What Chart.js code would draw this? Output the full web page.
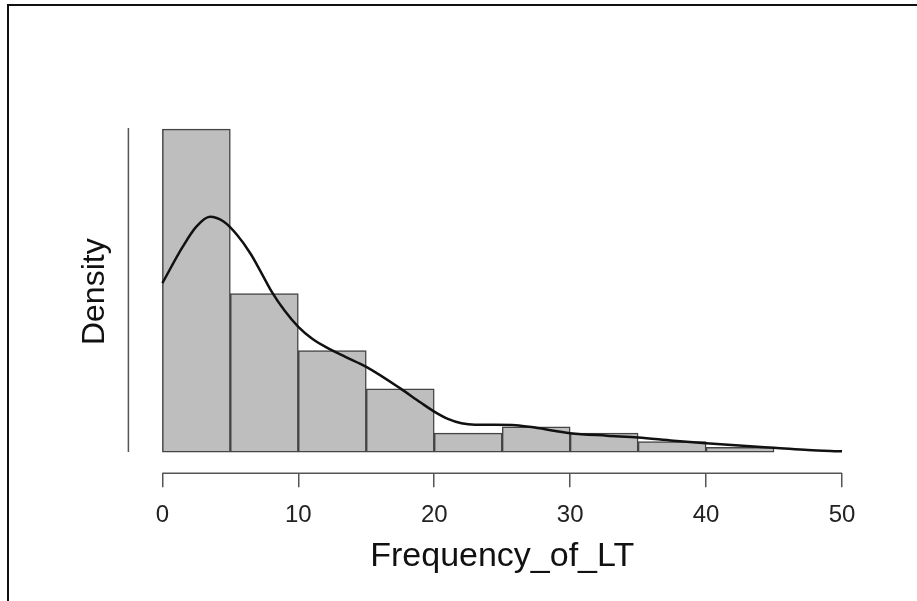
<!DOCTYPE html>
<html>
<head>
<meta charset="utf-8">
<script src="https://cdn.jsdelivr.net/npm/chart.js@4.4.1/dist/chart.umd.min.js"></script>
<style>
  html, body { margin: 0; padding: 0; background: #fff; }
  #wrap { position: relative; width: 917px; height: 601px; overflow: hidden; }
  #frame { position: absolute; left: 7px; top: 4px; width: 920px; height: 610px;
           border-top: 2px solid #111; border-left: 2px solid #111; }
  canvas { position: absolute; left: 0; top: 0; }
</style>
</head>
<body>
<div id="wrap">
  <div id="frame"></div>
  <canvas id="mainChart" width="917" height="601"></canvas>
</div>
<script>
// histogram bins (width 5) and their density heights
const binEdges = [0, 5, 10, 15, 20, 25, 30, 35, 40, 45];
const histDensity = [0.0887, 0.0435, 0.0279, 0.0174, 0.0052, 0.0069, 0.0052, 0.0029, 0.0013];

// kernel density curve
const kdeX = [0, 1.5, 2.5, 3.5, 4.5, 5.5, 6.5, 7.3, 8.05, 9, 10, 11, 12, 13.5, 15, 17.5, 19, 20, 21, 22, 23, 24.5, 26, 27.6, 30, 32.7, 35, 37.6, 40, 43.5, 45, 47.5, 50];
const kdeY = [0.0464, 0.0564, 0.0619, 0.0646, 0.0633, 0.0596, 0.0544, 0.0491, 0.0440, 0.0388, 0.0344, 0.0312, 0.0289, 0.0261, 0.0234, 0.0175, 0.0136, 0.0111, 0.0091, 0.0079, 0.0075, 0.0075, 0.0074, 0.0066, 0.0052, 0.0045, 0.0040, 0.0031, 0.0024, 0.0015, 0.0012, 0.0006, 0.0002];

const xTicks = [0, 10, 20, 30, 40, 50];
const yTop = 0.089;

const fontFamily = '"Liberation Sans", Arial, Helvetica, sans-serif';

// bars centred on each bin
const barData = [];
histDensity.forEach((d, i) => {
    barData.push({ x: (binEdges[i] + binEdges[i + 1]) / 2, y: d });
});
const curveData = kdeX.map((x, i) => ({ x: x, y: kdeY[i] }));

// R style detached axis lines
const axisLines = {
    id: 'axisLines',
    afterDraw(chart) {
        const ctx = chart.ctx;
        const area = chart.chartArea;
        const xs = chart.scales.x;
        const ys = chart.scales.y;
        ctx.save();
        ctx.strokeStyle = '#555';
        ctx.lineWidth = 1.5;
        ctx.beginPath();
        ctx.moveTo(area.left, ys.getPixelForValue(0));
        ctx.lineTo(area.left, ys.getPixelForValue(yTop));
        ctx.moveTo(xs.getPixelForValue(xTicks[0]), area.bottom);
        ctx.lineTo(xs.getPixelForValue(xTicks[xTicks.length - 1]), area.bottom);
        ctx.stroke();
        ctx.restore();
    },
};

const ctx = document.getElementById('mainChart').getContext('2d');
const chart = new Chart(ctx, {
    type: 'bar',
    data: {
        datasets: [
            {
                type: 'line',
                data: curveData,
                borderColor: '#111',
                borderWidth: 2.5,
                pointRadius: 0,
                fill: false,
                cubicInterpolationMode: 'monotone',
                order: 0,
            },
            {
                type: 'bar',
                data: barData,
                backgroundColor: '#bebebe',
                borderColor: '#444',
                borderWidth: 1.5,
                borderSkipped: false,
                barPercentage: 1,
                categoryPercentage: 1,
                order: 1,
            },
        ],
    },
    options: {
        responsive: false,
        animation: false,
        devicePixelRatio: 1,
        layout: { padding: { left: 74, top: 128, right: 41, bottom: 19 } },
        plugins: { legend: { display: false }, tooltip: { enabled: false } },
        scales: {
            x: {
                type: 'linear',
                min: -2.5,
                max: 52.5,
                offset: false,
                afterBuildTicks: (axis) => {
                    axis.ticks = xTicks.map((v) => ({ value: v }));
                },
                ticks: {
                    autoSkip: false,
                    maxRotation: 0,
                    padding: 14,
                    color: '#222',
                    font: { family: fontFamily, size: 24 },
                },
                grid: {
                    display: true,
                    offset: false,
                    drawOnChartArea: false,
                    drawTicks: true,
                    tickLength: 14,
                    color: '#555',
                    lineWidth: 1.5,
                },
                border: { display: false },
                title: {
                    display: true,
                    text: 'Frequency_of_LT',
                    color: '#111',
                    font: { family: fontFamily, size: 34, lineHeight: 1 },
                    padding: { top: -4, bottom: 8 },
                },
            },
            y: {
                type: 'linear',
                min: -0.0058,
                max: yTop,
                ticks: { display: false },
                grid: { display: false },
                border: { display: false },
                title: {
                    display: true,
                    // leading spaces lift the label to the middle of the axis line
                    text: '  Density',
                    color: '#111',
                    font: { family: fontFamily, size: 32 },
                    padding: { top: 2, bottom: 6 },
                },
            },
        },
    },
    plugins: [axisLines],
});
</script>
</body>
</html>
